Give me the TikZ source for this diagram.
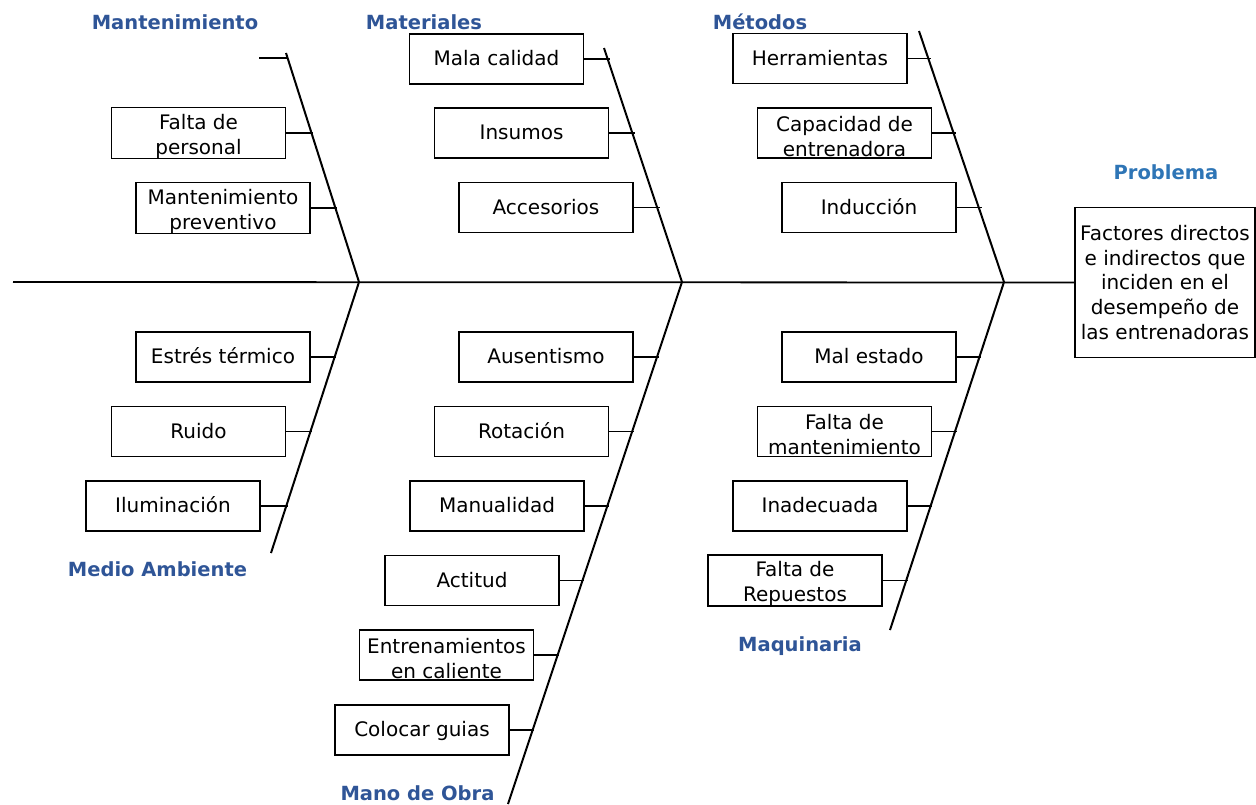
\documentclass[tikz,border=0pt]{standalone}
\usepackage{fontspec}
\setmainfont{DejaVu Sans}
\definecolor{titleblue}{HTML}{2F5597}
\definecolor{probblue}{HTML}{2E75B6}
\newcommand{\twol}[2]{\rule{0pt}{22pt}#1\\#2}
\begin{document}
\begin{tikzpicture}[x=1pt,y=-1pt,
  cause/.style={draw=black,line width=1.8pt,minimum width=174pt,minimum height=50pt,inner sep=0pt,align=center,font=\fontsize{20}{25}\selectfont},
  one/.style={cause,text height=13.5pt,text depth=0pt},
  bone/.style={line width=2pt},
  tick/.style={line width=1.8pt},
  cat/.style={anchor=base,text=titleblue,font=\fontsize{19.5}{24}\selectfont\bfseries},
]
\useasboundingbox (0,0) rectangle (1256,804);
% problem
\node[cause,minimum width=180pt,minimum height=150pt,font=\fontsize{20}{24.75}\selectfont] (prob) at (1165,282.5) {\rule{0pt}{13pt}Factores directos\\e indirectos que\\inciden en el\\desempeño de\\las entrenadoras};
\node[cat,text=probblue] (lprob) at (1166,179) {Problema};
% spine
\coordinate (s0) at (13,282);
\draw[line width=1.8pt] (s0) -- (prob.west);
% bone coordinates
\coordinate (mtT) at (286,53);  \coordinate (mtB) at (359,282);
\coordinate (maT) at (604,48);  \coordinate (maB) at (682,282);
\coordinate (meT) at (919,31);  \coordinate (meB) at (1004,282);
\coordinate (maE) at (271,553);
\coordinate (moE) at (508,804);
\coordinate (mqE) at (890,630);
\draw[bone] (mtT) -- (mtB) -- (maE);
\draw[bone] (maT) -- (maB) -- (moE);
\draw[bone] (meT) -- (meB) -- (mqE);
% category labels
\node[cat] (l1) at (175,29) {Mantenimiento};
\node[cat] (l2) at (424,29) {Materiales};
\node[cat] (l3) at (760,29) {Métodos};
\node[cat] (l4) at (157.5,576) {Medio Ambiente};
\node[cat] (l5) at (800,651) {Maquinaria};
\node[cat] (l6) at (417.5,800) {Mano de Obra};
% Mantenimiento
\coordinate (stubA) at (259,58); \coordinate (stubB) at (288,58);
\draw[tick] (stubA) -- (stubB);
\node[cause] (b11) at (198.5,133) {\twol{Falta de}{personal}};
\node[cause] (b12) at (223,208) {\twol{Mantenimiento}{preventivo}};
\coordinate (t11) at (313,133); \coordinate (t12) at (337,208);
% Materiales
\node[one] (b21) at (496.5,59) {Mala calidad};
\node[one] (b22) at (521.5,133) {Insumos};
\node[one] (b23) at (546,207.5) {Accesorios};
\coordinate (t21) at (610,59); \coordinate (t22) at (635,133); \coordinate (t23) at (660,207.5);
% Metodos
\node[one] (b31) at (820,58.5) {Herramientas};
\node[cause] (b32) at (844.5,133) {\twol{Capacidad de}{entrenadora}};
\node[one] (b33) at (869,207.5) {Inducción};
\coordinate (t31) at (931,58.5); \coordinate (t32) at (956,133); \coordinate (t33) at (982,207.5);
% Medio ambiente
\node[one] (b41) at (223,357) {Estrés térmico};
\node[one] (b42) at (198.5,431.5) {Ruido};
\node[one] (b43) at (173,506) {Iluminación};
\coordinate (t41) at (336,357); \coordinate (t42) at (312,431.5); \coordinate (t43) at (288,506);
% Mano de obra
\node[one] (b51) at (546,357) {Ausentismo};
\node[one] (b52) at (521.5,431.5) {Rotación};
\node[one] (b53) at (497,506) {Manualidad};
\node[one] (b54) at (472,580.5) {Actitud};
\node[cause] (b55) at (446.5,655) {\twol{Entrenamientos}{en caliente}};
\node[one] (b56) at (422,730) {Colocar guias};
\coordinate (t51) at (659,357); \coordinate (t52) at (634,431.5); \coordinate (t53) at (609,506);
\coordinate (t54) at (584,580.5); \coordinate (t55) at (559,655); \coordinate (t56) at (534,730);
% Maquinaria
\node[one] (b61) at (869,357) {Mal estado};
\node[cause] (b62) at (844.5,431.5) {\twol{Falta de}{mantenimiento}};
\node[one] (b63) at (820,506) {Inadecuada};
\node[cause] (b64) at (795,580.5) {\twol{Falta de}{Repuestos}};
\coordinate (t61) at (981,357); \coordinate (t62) at (957,431.5); \coordinate (t63) at (932,506); \coordinate (t64) at (908,580.5);
% ticks
\foreach \b in {11,12,21,22,23,31,32,33,41,42,43,51,52,53,54,55,56,61,62,63,64}
  \draw[tick] (b\b.east) -- (t\b);
\end{tikzpicture}
\end{document}
